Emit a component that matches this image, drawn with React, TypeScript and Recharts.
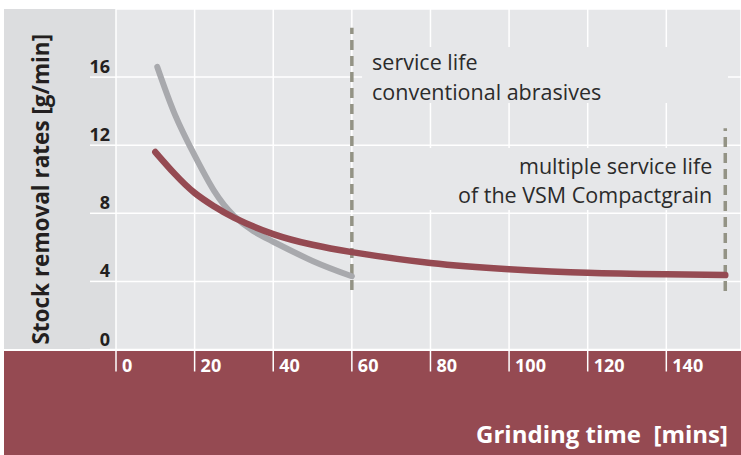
import React from 'react';
import {
  LineChart,
  Line,
  XAxis,
  YAxis,
  CartesianGrid,
  ReferenceLine,
  ReferenceArea,
  Label,
} from 'recharts';

// ---- data ----
const xTicks = [0, 20, 40, 60, 80, 100, 120, 140];
const yTicks = [0, 4, 8, 12, 16];

const conventionalTimes = [10.5, 15, 20, 25, 30, 35, 40, 50, 60];
const conventionalRates = [16.6, 13.8, 11.4, 9.3, 7.85, 6.95, 6.33, 5.2, 4.3];

const compactTimes = [10, 15, 20, 25, 30, 40, 50, 60, 80, 100, 120, 140, 155];
const compactRates = [11.6, 10.3, 9.2, 8.4, 7.75, 6.78, 6.15, 5.72, 5.08, 4.72, 4.51, 4.42, 4.37];

const serviceLifeConventional = 60;
const serviceLifeCompact = 155;

const labelConventional = ['service life', 'conventional abrasives'];
const labelCompact = ['multiple service life', 'of the VSM Compactgrain'];

const xTitle = 'Grinding time  [mins]';
const yTitle = 'Stock removal rates [g/min]';

const conventionalData = conventionalTimes.map((t, i) => ({ t, v: conventionalRates[i] }));
const compactData = compactTimes.map((t, i) => ({ t, v: compactRates[i] }));

// ---- style ----
const FONT = '"Open Sans", "Noto Sans", sans-serif';
const RED = '#954a52';
const GREY_LINE = '#a8a9ad';
const DASH = '#939385';
const PLOT_BG = '#e6e7e9';
const PANEL_BG = '#dcdddf';
const TEXT = '#2b2b2b';

const XTick = (props: any) => {
  const { x, y, payload } = props;
  return (
    <text x={x + 6} y={y + 0.5} fill="#fff" fontFamily={FONT} fontWeight={700} fontSize={18}>
      {payload.value}
    </text>
  );
};

const YTick = (props: any) => {
  const { x, y, payload } = props;
  return (
    <text x={x + 20} y={y - 4} textAnchor="end" fill="#231f20" fontFamily={FONT} fontWeight={700} fontSize={18}>
      {payload.value}
    </text>
  );
};

const XTitle = (props: any) => {
  const vb = props.viewBox;
  return (
    <text
      x={vb.x + vb.width - 13}
      y={vb.y + 93.5}
      textAnchor="end"
      fill="#fff"
      fontFamily={FONT}
      fontWeight={700}
      fontSize={24}
      style={{ whiteSpace: 'pre' }}
    >
      {xTitle}
    </text>
  );
};

const YTitle = (props: any) => {
  const vb = props.viewBox;
  const cx = 49;
  const cy = vb.y + vb.height / 2 + 10;
  return (
    <text
      x={cx}
      y={cy}
      transform={`rotate(-90, ${cx}, ${cy})`}
      textAnchor="middle"
      fill="#231f20"
      fontFamily={FONT}
      fontWeight={700}
      fontSize={22.5}
    >
      {yTitle}
    </text>
  );
};

const BoxTextLeft = (props: any) => {
  const vb = props.viewBox;
  return (
    <g>
      {labelConventional.map((s, i) => (
        <text key={i} x={vb.x + 10} y={vb.y + 23 + i * 30} fill={TEXT} fontFamily={FONT} fontSize={21.5}>
          {s}
        </text>
      ))}
    </g>
  );
};

const BoxTextRight = (props: any) => {
  const vb = props.viewBox;
  return (
    <g>
      {labelCompact.map((s, i) => (
        <text
          key={i}
          x={vb.x + vb.width - 4}
          y={vb.y + 26 + i * 29}
          textAnchor="end"
          fill={TEXT}
          fontFamily={FONT}
          fontSize={21.5}
        >
          {s}
        </text>
      ))}
    </g>
  );
};

export default function App() {
  return (
    <div style={{ position: 'absolute', left: 0, top: 0, width: 741, height: 455, background: '#fff' }}>
      <div style={{ position: 'absolute', left: 4, top: 9, width: 112, height: 340, background: PANEL_BG }} />
      <div style={{ position: 'absolute', left: 4, top: 351, width: 737, height: 104, background: RED }} />
      <LineChart width={741} height={455} margin={{ top: 9, right: 0, bottom: 0, left: 0 }}>
        <CartesianGrid fill={PLOT_BG} stroke="#fff" strokeWidth={1.5} />
        <XAxis
          type="number"
          dataKey="t"
          domain={[0, 159]}
          ticks={xTicks}
          allowDataOverflow
          height={105.5}
          axisLine={false}
          tickLine={{ stroke: '#fff', strokeWidth: 1.5 }}
          tickSize={22}
          tickMargin={0}
          tick={XTick}
          interval={0}
        >
          <Label content={XTitle} />
        </XAxis>
        <YAxis
          type="number"
          domain={[0, 20]}
          ticks={yTicks}
          allowDataOverflow
          width={116}
          axisLine={false}
          tickLine={{ stroke: '#fff', strokeWidth: 1.5 }}
          tickSize={26}
          tickMargin={0}
          tick={YTick}
          interval={0}
        >
          <Label content={YTitle} />
        </YAxis>
        <ReferenceArea
          x1={62.6}
          x2={155.7}
          y1={14.48}
          y2={17.77}
          fill={PLOT_BG}
          fillOpacity={1}
          stroke="none"
          label={<BoxTextLeft />}
        />
        <ReferenceArea
          x1={72.3}
          x2={152.7}
          y1={8.19}
          y2={11.83}
          fill={PLOT_BG}
          fillOpacity={1}
          stroke="none"
          label={<BoxTextRight />}
        />
        <ReferenceLine
          segment={[
            { x: serviceLifeConventional, y: 3.5 },
            { x: serviceLifeConventional, y: 18.9 },
          ]}
          stroke={DASH}
          strokeWidth={3.5}
          strokeDasharray="10 6"
        />
        <ReferenceLine
          segment={[
            { x: serviceLifeCompact, y: 3.44 },
            { x: serviceLifeCompact, y: 13.0 },
          ]}
          stroke={DASH}
          strokeWidth={3.5}
          strokeDasharray="10 6"
        />
        <Line
          data={conventionalData}
          dataKey="v"
          type="natural"
          stroke={GREY_LINE}
          strokeWidth={6}
          strokeLinecap="round"
          dot={false}
          activeDot={false}
          isAnimationActive={false}
        />
        <Line
          data={compactData}
          dataKey="v"
          type="natural"
          stroke={RED}
          strokeWidth={6.5}
          strokeLinecap="round"
          dot={false}
          activeDot={false}
          isAnimationActive={false}
        />
      </LineChart>
    </div>
  );
}
